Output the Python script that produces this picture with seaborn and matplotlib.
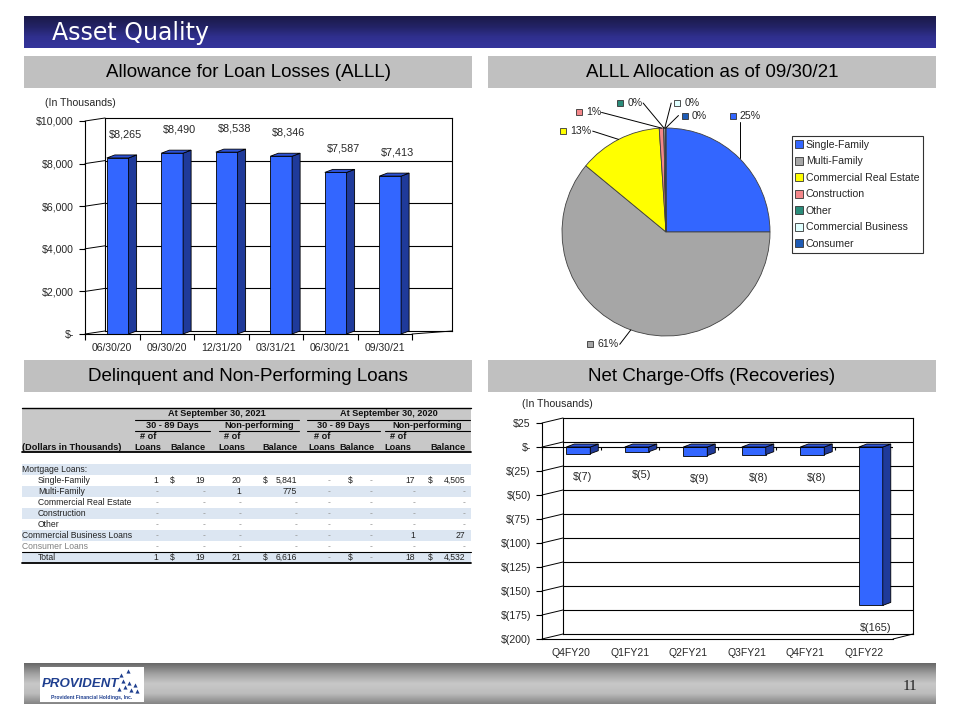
import numpy as np
import matplotlib
matplotlib.use("Agg")
import matplotlib.pyplot as plt
import seaborn as sns
from matplotlib.patches import Rectangle, Polygon
from matplotlib.lines import Line2D
from matplotlib.colors import LinearSegmentedColormap

# Allowance for loan losses, $ thousands
alll_dates = ["06/30/20", "09/30/20", "12/31/20", "03/31/21", "06/30/21", "09/30/21"]
alll_values = [8265, 8490, 8538, 8346, 7587, 7413]

# ALLL allocation as of 09/30/21 ($ thousands, estimated from the pie shares)
alloc_names = ["Single-Family", "Multi-Family", "Commercial Real Estate", "Construction",
               "Other", "Commercial Business", "Consumer"]
alloc_values = [1853, 4521, 962, 52, 3, 17, 5]

# net charge-offs (recoveries), $ thousands
nco_quarters = ["Q4FY20", "Q1FY21", "Q2FY21", "Q3FY21", "Q4FY21", "Q1FY22"]
nco_values = [-7, -5, -9, -8, -8, -165]

# delinquent and non-performing loans table (None = "-")
tbl_periods = ["At September 30, 2021", "At September 30, 2020"]
tbl_buckets = ["30 - 89 Days", "Non-performing"]
tbl_rows = ["Single-Family", "Multi-Family", "Commercial Real Estate", "Construction", "Other",
            "Commercial Business Loans", "Consumer Loans", "Total"]
dlq21_count = [1, None, None, None, None, None, None, 1]
dlq21_bal = [19, None, None, None, None, None, None, 19]
npl21_count = [20, 1, None, None, None, None, None, 21]
npl21_bal = [5841, 775, None, None, None, None, None, 6616]
dlq20_count = [None, None, None, None, None, None, None, None]
dlq20_bal = [None, None, None, None, None, None, None, None]
npl20_count = [17, None, None, None, None, 1, None, 18]
npl20_bal = [4505, None, None, None, None, 27, None, 4532]

# colours
BAR_FRONT = "#3366FF"
BAR_SIDE = "#1F3A9A"
BAR_TOP = "#2C52D8"
alloc_colors = ["#3366FF", "#A6A6A6", "#FFFF00", "#F4878A", "#2A8C7A", "#E0FFFF", "#1E5BB5"]

sns.set_style("white")
plt.rcParams["font.family"] = ["Liberation Sans", "DejaVu Sans"]

W, H = 960, 720
fig = plt.figure(figsize=(9.6, 7.2), dpi=100)


def px(x0, y0, x1, y1):
    return [x0 / W, 1 - y1 / H, (x1 - x0) / W, (y1 - y0) / H]


def money(v):
    if v == 0:
        return "$-"
    if v < 0:
        return f"$({-v:,.0f})"
    return f"${v:,.0f}"


def bars3d(ax, cats, vals, shift, width, dx, dy):
    sns.barplot(x=cats, y=vals, ax=ax, color=BAR_FRONT, width=width, saturation=1,
                edgecolor="black", linewidth=0.6, errorbar=None)
    for p, v in zip(list(ax.patches), vals):
        p.set_x(p.get_x() + shift)
        x0 = p.get_x()
        x1 = x0 + p.get_width()
        top, bot = max(0, v), min(0, v)
        ax.add_patch(Polygon([(x1, bot), (x1, top), (x1 + dx, top + dy), (x1 + dx, bot + dy)],
                             closed=True, fc=BAR_SIDE, ec="black", lw=0.6))
        ax.add_patch(Polygon([(x0, top), (x1, top), (x1 + dx, top + dy), (x0 + dx, top + dy)],
                             closed=True, fc=BAR_TOP, ec="black", lw=0.6))


def back_wall(bk, ylim, grid):
    bk.set_xlim(0, 1)
    bk.set_ylim(*ylim)
    bk.set_xticks([])
    bk.set_yticks(grid)
    bk.tick_params(length=0, labelleft=False)
    bk.grid(True, axis="y", color="black", lw=0.8)
    for s in bk.spines.values():
        s.set_visible(True)
        s.set_color("black")
        s.set_linewidth(0.8)


def front_axis(ax, cats, ylim, yticks):
    ax.set_xlim(-0.5, len(cats) - 0.5)
    ax.set_ylim(*ylim)
    ax.patch.set_visible(False)
    ax.grid(False)
    ax.set_xlabel("")
    ax.set_ylabel("")
    for s in ["top", "right"]:
        ax.spines[s].set_visible(False)
    for s in ["left", "bottom"]:
        ax.spines[s].set_color("black")
        ax.spines[s].set_linewidth(0.8)
    ax.set_yticks(yticks)
    ax.set_yticklabels([money(t) for t in yticks])
    ax.set_xticks(np.arange(len(cats) + 1) - 0.5)
    ax.set_xticklabels([])
    ax.set_xticks(np.arange(len(cats)), minor=True)
    ax.set_xticklabels(cats, minor=True)
    ax.tick_params(axis="y", length=4, width=0.8, color="black", pad=4, labelsize=7.6, left=True)
    ax.tick_params(axis="x", which="minor", length=0, pad=6.5, labelsize=7.5, bottom=True)


def connect(a_ax, a_pt, b_ax, b_pt):
    inv = fig.transFigure.inverted()
    a = inv.transform(a_ax.transData.transform(a_pt))
    b = inv.transform(b_ax.transData.transform(b_pt))
    fig.add_artist(Line2D([a[0], b[0]], [a[1], b[1]], transform=fig.transFigure,
                          color="black", lw=0.7))


# ---------- slide decoration ----------
deco = fig.add_axes([0, 0, 1, 1], zorder=0)
title_cmap = LinearSegmentedColormap.from_list("title", ["#1b1a48", "#232366", "#30308f", "#34349b"])
deco.imshow(np.linspace(0, 1, 64).reshape(-1, 1), cmap=title_cmap, extent=[24, 936, 48, 16],
            aspect="auto", interpolation="bicubic")
deco.text(52, 33, "Asset Quality", color="white", fontsize=17, va="center", ha="left",
          family="DejaVu Sans")

foot_cmap = LinearSegmentedColormap.from_list("foot", ["#686868", "#a0a0a0", "#c8c8c8", "#bcbcbc", "#858585"])
deco.imshow(np.linspace(0, 1, 64).reshape(-1, 1), cmap=foot_cmap, extent=[24, 936, 704, 663],
            aspect="auto", interpolation="bicubic")
deco.add_patch(Rectangle((40, 667), 104, 35, fc="white", ec="none"))
deco.text(42, 684, "PROVIDENT", color="#1F3F8F", fontsize=9.5, fontweight="bold", style="italic",
          va="center", ha="left")
deco.scatter([119, 125, 131, 137, 123, 129, 135, 121, 128], [689, 687, 690, 691, 681, 683, 685, 675, 671],
             marker="^", s=9, color="#1F3F8F", linewidths=0)
deco.text(92, 697, "Provident Financial Holdings, Inc.", color="#1F3F8F", fontsize=3.6,
          va="center", ha="center", fontweight="bold")
deco.text(910, 687, "11", fontsize=11, va="center", ha="center", family="Liberation Serif", color="#222222")

headers = ["Allowance for Loan Losses (ALLL)", "ALLL Allocation as of 09/30/21",
           "Delinquent and Non-Performing Loans", "Net Charge-Offs (Recoveries)"]
for name, (x0, y0) in zip(headers, [(24, 56), (488, 56), (24, 360), (488, 360)]):
    deco.add_patch(Rectangle((x0, y0), 448, 32, fc="#C0C0C0", ec="none"))
    deco.text(x0 + 224, y0 + 16.5, name, fontsize=13.5, ha="center", va="center", color="black")

deco.text(45, 103, "(In Thousands)", fontsize=7.6, va="center")
deco.text(522, 404, "(In Thousands)", fontsize=7.6, va="center")

# ---------- delinquency table ----------
deco.add_patch(Rectangle((22, 408), 449, 44, fc="#C8C8C8", ec="none"))
deco.plot([22, 471], [408, 408], color="black", lw=1.0)
deco.plot([22, 471], [452, 452], color="black", lw=1.3)
hdr_kw = dict(fontsize=6.6, fontweight="bold", ha="center", va="center", color="#111111")
period_span = [(135, 299), (307, 470)]
bucket_span = [(135, 210), (219, 299), (307, 380), (385, 470)]
loans_hdr_x = [148, 232, 322, 398]
bal_hdr_x = [188, 280, 357, 448]
for per, (a, b) in zip(tbl_periods, period_span):
    deco.text((a + b) / 2, 414, per, **hdr_kw)
    deco.plot([a, b], [419.5, 419.5], color="black", lw=0.8)
for k, (a, b) in enumerate(bucket_span):
    deco.text((a + b) / 2, 425.5, tbl_buckets[k % 2], **hdr_kw)
    deco.plot([a, b], [431, 431], color="black", lw=0.8)
    deco.text(loans_hdr_x[k], 436.5, "# of", **hdr_kw)
    deco.text(loans_hdr_x[k], 447, "Loans", **hdr_kw)
    deco.text(bal_hdr_x[k], 447, "Balance", **hdr_kw)
deco.text(22, 447, "(Dollars in Thousands)", **{**hdr_kw, "ha": "left"})

row_h = 11
top0 = 464
band = "#DCE6F2"
for r in range(len(tbl_rows) + 1):
    if r % 2 == 0:
        deco.add_patch(Rectangle((22, top0 + r * row_h), 449, row_h, fc=band, ec="none"))
deco.text(22, top0 + row_h / 2, "Mortgage Loans:", fontsize=6.2, va="center", color="#222222")
indent = [True, True, True, True, True, False, False, True]
label_col = ["#222222"] * 6 + ["#808080", "#222222"]
columns = [(dlq21_count, dlq21_bal), (npl21_count, npl21_bal), (dlq20_count, dlq20_bal),
           (npl20_count, npl20_bal)]
col_x = [(158, 172, 205), (241, 265, 297), (330, 350, 372), (415, 430, 465)]
for i, name in enumerate(tbl_rows):
    y = top0 + (i + 1) * row_h + row_h / 2
    deco.text(38 if indent[i] else 22, y, name, fontsize=6.2, va="center", color=label_col[i])
    for (cnt, bal), (xl, xd, xb) in zip(columns, col_x):
        c, b = cnt[i], bal[i]
        deco.text(xl, y, "-" if c is None else f"{c:,}", fontsize=6.2, ha="right", va="center",
                  color="#999999" if c is None else "#222222")
        if i == 0 or i == len(tbl_rows) - 1:
            deco.text(xd, y, "$", fontsize=6.2, ha="center", va="center", color="#222222")
        deco.text(xb, y, "-" if b is None else f"{b:,}", fontsize=6.2, ha="right", va="center",
                  color="#999999" if b is None else "#222222")
tot_top = top0 + len(tbl_rows) * row_h
deco.plot([22, 471], [tot_top, tot_top], color="black", lw=0.8)
deco.plot([22, 471], [tot_top + row_h, tot_top + row_h], color="black", lw=1.3)

deco.set_xlim(0, W)
deco.set_ylim(H, 0)
deco.axis("off")

# ---------- ALLL 3-D bar chart ----------
bk1 = fig.add_axes(px(105, 118, 452, 331), zorder=1)
back_wall(bk1, (0, 10000), [2000, 4000, 6000, 8000])
ax1 = fig.add_axes(px(85, 121, 412, 334), zorder=2)
bars3d(ax1, alll_dates, alll_values, shift=0.1, width=0.4, dx=0.147, dy=141)
alll_ticks = [0, 2000, 4000, 6000, 8000, 10000]
front_axis(ax1, alll_dates, (0, 10000), alll_ticks)
ax1.tick_params(axis="x", which="major", length=4, width=0.8, color="black", bottom=True)
for i, v in enumerate(alll_values):
    ax1.text(i + 0.24, v + 1100, money(v), ha="center", va="center", fontsize=7.8)
for t in alll_ticks:
    connect(ax1, (-0.5, t), bk1, (0, t))
connect(ax1, (5.5, 0), bk1, (1, 0))

# ---------- ALLL allocation pie ----------
R = 104
pax = fig.add_axes(px(666 - 1.5 * R, 232 - 1.3 * R, 666 + 1.5 * R, 232 + 1.3 * R), zorder=2)
wedges, _ = pax.pie(alloc_values, colors=alloc_colors, startangle=90, counterclock=False, radius=1,
                    wedgeprops=dict(edgecolor="#404040", linewidth=0.6))
pax.set_xlim(-1.5, 1.5)
pax.set_ylim(-1.3, 1.3)
pax.set_aspect("equal")
pax.axis("off")

label_pos = [(0.64, 1.12), (-0.73, -1.08), (-0.99, 0.97), (-0.84, 1.15), (-0.44, 1.24),
             (0.11, 1.24), (0.18, 1.12)]
total = sum(alloc_values)
for w, v, c, (lx, ly) in zip(wedges, alloc_values, alloc_colors, label_pos):
    txt = f"{100 * v / total:.0f}%"
    pax.plot(lx, ly, marker="s", ms=5, mfc=c, mec="#333333", mew=0.6, ls="", clip_on=False)
    pax.text(lx + 0.07, ly, txt, fontsize=7.6, va="center", ha="left", clip_on=False)
    mid = np.deg2rad((w.theta1 + w.theta2) / 2)
    ax_, ay_ = np.cos(mid), np.sin(mid)
    left, right = lx - 0.04, lx + 0.07 + 0.065 * len(txt)
    if ax_ > right:
        ex, ey = right + 0.02, ly
    elif ax_ < left:
        ex, ey = left - 0.02, ly
    else:
        ex, ey = ax_, ly - 0.06 * np.sign(ly)
    pax.plot([ax_, ex], [ay_, ey], color="black", lw=0.7, clip_on=False)

handles = [Line2D([], [], marker="s", ls="", ms=5.5, mfc=c, mec="#333333", mew=0.6) for c in alloc_colors]
leg = fig.legend(handles, alloc_names, loc="upper left", bbox_to_anchor=(792 / W, 1 - 136 / H),
                 frameon=True, fancybox=False, edgecolor="black", fontsize=7.6, handlelength=0.7,
                 handletextpad=0.25, labelspacing=0.62, borderpad=0.35, borderaxespad=0)
leg.get_frame().set_linewidth(0.8)

# ---------- net charge-offs 3-D bar chart ----------
bk2 = fig.add_axes(px(563, 418, 913, 634), zorder=1)
back_wall(bk2, (-200, 25), [-175, -150, -125, -100, -75, -50, -25, 0])
ax2 = fig.add_axes(px(542, 423, 893, 639), zorder=2)
bars3d(ax2, nco_quarters, nco_values, shift=0.12, width=0.41, dx=0.137, dy=3.1)
nco_ticks = [-200, -175, -150, -125, -100, -75, -50, -25, 0, 25]
front_axis(ax2, nco_quarters, (-200, 25), nco_ticks)
ax2.tick_params(axis="x", which="major", length=0)
ax2.axhline(0, color="black", lw=0.8, zorder=0.5)
ax2.vlines(np.arange(len(nco_quarters) + 1) - 0.5, -3, 0, color="black", lw=0.8)
for i, v in enumerate(nco_values):
    ax2.text(i + 0.2, v - 24, money(v), ha="center", va="center", fontsize=7.8)
for t in nco_ticks:
    connect(ax2, (-0.5, t), bk2, (0, t))
connect(ax2, (5.5, -200), bk2, (1, -200))

fig.savefig("out.png", dpi=100)
